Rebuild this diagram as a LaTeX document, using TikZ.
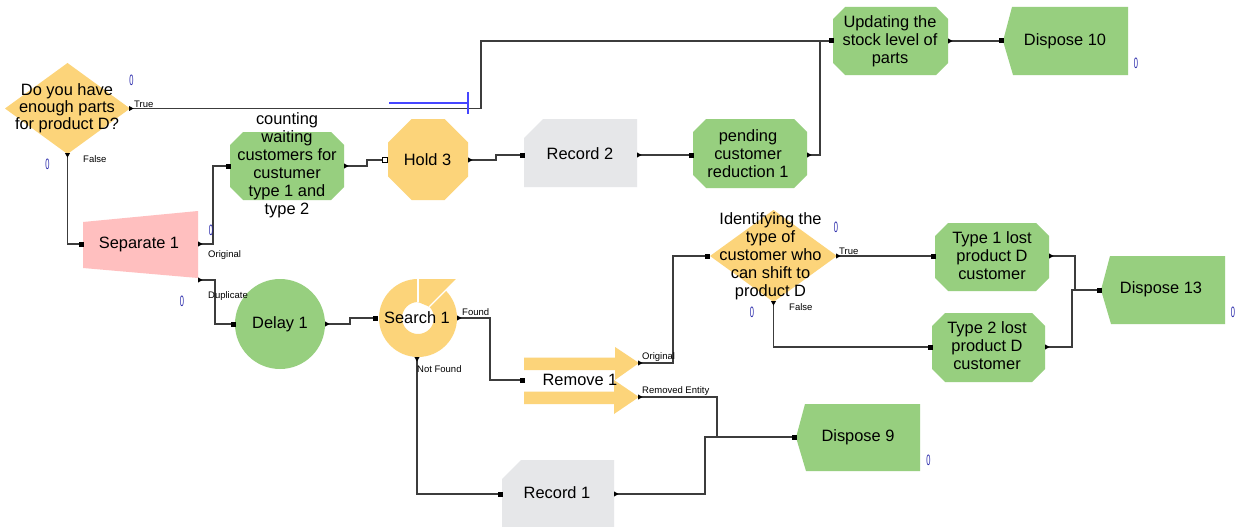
\documentclass[tikz,border=0pt]{standalone}
\usepackage{fontspec}
\usepackage{graphicx}
\setmainfont{Liberation Sans}
\usetikzlibrary{calc}

\definecolor{arenagreen}{RGB}{151,207,127}
\definecolor{arenaorange}{RGB}{252,212,122}
\definecolor{arenapink}{RGB}{255,191,191}
\definecolor{arenagray}{RGB}{230,231,233}
\definecolor{linegray}{RGB}{60,60,60}
\definecolor{countblue}{RGB}{40,40,170}
\definecolor{markblue}{RGB}{70,70,255}

% octagon-like box with cut corners: node, corner size, colour
\newcommand\cutfill[3]{%
  \fill[#3] ([xshift=#2]#1.north west) -- ([xshift=-#2]#1.north east)
    -- ([yshift=-#2]#1.north east) -- ([yshift=#2]#1.south east)
    -- ([xshift=-#2]#1.south east) -- ([xshift=#2]#1.south west)
    -- ([yshift=#2]#1.south west) -- ([yshift=-#2]#1.north west) -- cycle;}
% record box: top-left corner cut off
\newcommand\recfill[1]{%
  \fill[arenagray] ([yshift=-19pt]#1.north west) -- ([xshift=19pt]#1.north west)
    -- (#1.north east) -- (#1.south east) -- (#1.south west) -- cycle;}
% dispose box: pointed left side
\newcommand\dispfill[1]{%
  \fill[arenagreen] ([xshift=9pt]#1.north west) -- (#1.north east)
    -- (#1.south east) -- ([xshift=10pt]#1.south west) -- (#1.west) -- cycle;}
% decision diamond
\newcommand\decfill[1]{%
  \fill[arenaorange] (#1.west) -- (#1.north) -- (#1.east) -- (#1.south) -- cycle;}
% port markers
\newcommand\portin[1]{\fill[black] ([shift={(-2.5pt,-2.5pt)}]#1) rectangle ([shift={(2.5pt,2.5pt)}]#1);}
\newcommand\portinopen[1]{\draw[black,fill=white,line width=0.7pt] ([shift={(-2.2pt,-2.2pt)}]#1) rectangle ([shift={(2.2pt,2.2pt)}]#1);}
\newcommand\portout[1]{\fill[black] ([shift={(-1pt,2.6pt)}]#1) -- ([xshift=3.5pt]#1) -- ([shift={(-1pt,-2.6pt)}]#1) -- cycle;}
\newcommand\portdown[1]{\fill[black] ([shift={(-2.6pt,1pt)}]#1) -- ([yshift=-3.5pt]#1) -- ([shift={(2.6pt,1pt)}]#1) -- cycle;}
% narrow counter digit
\newcommand\cntzero{\scalebox{0.5}[1]{0}}

\begin{document}
\begin{tikzpicture}[x=1pt,y=-1pt,
  frame/.style={rectangle,inner sep=0pt,outer sep=0pt,draw=none},
  txt/.style={inner sep=0pt,align=center,font=\fontsize{16.4}{18}\selectfont},
  lbl/.style={inner sep=0pt,anchor=west,font=\fontsize{9.5}{11}\selectfont},
  conn/.style={draw=linegray,line width=1.1pt},
  counter/.style={inner sep=0pt,text=countblue,font=\fontsize{15}{15}\selectfont}]

\useasboundingbox (0,0) rectangle (1236,527);
\fill[white] (0,0) rectangle (1236,527);
\clip (0,0) rectangle (1236,527);

% ---------- module outlines ----------
\node[frame,minimum width=125,minimum height=91] (dec1) at (67.5,108.5) {};
\node[frame,minimum width=115,minimum height=67] (sep) at (140.5,244.5) {};
\node[frame,minimum width=114,minimum height=68] (cnt) at (287,166) {};
\node[frame,minimum width=80,minimum height=81] (hold) at (428,159.5) {};
\node[frame,minimum width=113,minimum height=68] (rec2) at (580.5,153) {};
\node[frame,minimum width=114,minimum height=69] (pend) at (750,153.5) {};
\node[frame,minimum width=115,minimum height=68] (upd) at (890.5,41) {};
\node[frame,minimum width=125,minimum height=68] (d10) at (1065.5,41) {};
\node[circle,fill=arenagreen,inner sep=0pt,minimum size=90] (del) at (280,324) {};
\node[frame,minimum width=78,minimum height=78] (srch) at (418,318) {};
\node[frame,minimum width=115,minimum height=67] (rem) at (581,380.5) {};
\node[frame,minimum width=112,minimum height=68] (rec1) at (558,494) {};
\node[frame,minimum width=124,minimum height=67] (d9) at (858,437.5) {};
\node[frame,minimum width=127,minimum height=92] (dec2) at (773.5,256) {};
\node[frame,minimum width=114,minimum height=68] (t1) at (992,257) {};
\node[frame,minimum width=113,minimum height=69] (t2) at (988.5,347.5) {};
\node[frame,minimum width=124,minimum height=68] (d13) at (1163,290) {};

% ---------- module fills ----------
\decfill{dec1}
\decfill{dec2}
\fill[arenapink] ([yshift=-11pt]sep.north west) -- (sep.north east)
  -- (sep.south east) -- ([yshift=10pt]sep.south west) -- cycle;
\cutfill{cnt}{13pt}{arenagreen}
\cutfill{hold}{23.5pt}{arenaorange}
\recfill{rec2}
\cutfill{pend}{13pt}{arenagreen}
\cutfill{upd}{12pt}{arenagreen}
\dispfill{d10}
\recfill{rec1}
\dispfill{d9}
\cutfill{t1}{13pt}{arenagreen}
\cutfill{t2}{13pt}{arenagreen}
\dispfill{d13}

% search ring with its flag
\fill[arenaorange,even odd rule] (srch) circle[radius=39] (srch) circle[radius=16];
\fill[arenaorange] ($(srch)+(0,-16)$) -- ($(srch)+(0,-39)$) -- ($(srch)+(39,-39)$)
  -- ($(srch)+(11.3,-11.3)$) -- cycle;
\draw[white,line width=1.2pt] ($(srch)+(0,-16)$) -- ($(srch)+(0,-40)$);
\draw[white,line width=1.2pt] ($(srch)+(11.3,-11.3)$) -- ($(srch)+(40,-40)$);

% remove arrows
\fill[arenaorange] (524,357.5) -- (615,357.5) -- (615,347) -- (639,363)
  -- (615,380) -- (615,370) -- (524,370) -- cycle;
\fill[arenaorange] (524,391.5) -- (614,391.5) -- (614,380) -- (639,397)
  -- (614,414) -- (614,404) -- (524,404) -- cycle;

% ---------- ports ----------
\coordinate (dec1T) at (dec1.east);
\coordinate (dec1F) at (dec1.south);
\coordinate (sepIn) at (81,244);
\coordinate (sepO) at (199,244);
\coordinate (sepD) at (199,280);
\coordinate (cntIn) at (228,166);
\coordinate (cntO) at (345,166);
\coordinate (holdIn) at (385,160);
\coordinate (holdO) at (469,160);
\coordinate (rec2In) at (522,155);
\coordinate (rec2O) at (638,155);
\coordinate (pendIn) at (691,155);
\coordinate (pendO) at (808,155);
\coordinate (updIn) at (831,41);
\coordinate (updO) at (949,41);
\coordinate (d10In) at (1001,41);
\coordinate (delIn) at (233,324);
\coordinate (delO) at (326,324);
\coordinate (srchIn) at (375,318);
\coordinate (srchF) at (458,318);
\coordinate (srchNF) at (417,358);
\coordinate (remIn) at (522,380);
\coordinate (remO) at (639,363);
\coordinate (remR) at (639,397);
\coordinate (rec1In) at (500,494);
\coordinate (rec1O) at (615,494);
\coordinate (d9In) at (794,437);
\coordinate (dec2In) at (707,256);
\coordinate (dec2T) at (837,256);
\coordinate (dec2F) at (dec2.south);
\coordinate (t1In) at (933,256);
\coordinate (t1O) at (1050,256);
\coordinate (t2In) at (930,347);
\coordinate (t2O) at (1046,347);
\coordinate (d13In) at (1099,290);

% ---------- connectors ----------
\draw[conn] (dec1T) -- ++(351,0) |- (updIn);
\draw[conn] (dec1F) |- (sepIn);
\draw[conn] (sepO) -- ++(14,0) |- (cntIn);
\draw[conn] (sepD) -- ++(16,0) |- (delIn);
\draw[conn] (cntO) -- ++(22,0) |- (holdIn);
\draw[conn] (holdO) -- ++(27,0) |- (rec2In);
\draw[conn] (rec2O) -- (pendIn);
\draw[conn] (pendO) -- ++(12,0) |- (updIn);
\draw[conn] (updO) -- (d10In);
\draw[conn] (delO) -- ++(24,0) |- (srchIn);
\draw[conn] (srchF) -- ++(32,0) |- (remIn);
\draw[conn] (srchNF) |- (rec1In);
\draw[conn] (remO) -- ++(34,0) |- (dec2In);
\draw[conn] (remR) -- ++(78,0) |- (d9In);
\draw[conn] (rec1O) -- ++(90,0) |- (d9In);
\draw[conn] (dec2T) -- (t1In);
\draw[conn] (dec2F) |- (t2In);
\draw[conn] (t1O) -- ++(25,0) |- (d13In);
\draw[conn] (t2O) -- ++(26,0) |- (d13In);

% stray blue mark on the top line
\draw[markblue,line width=1.3pt] (389,103) -- (468,103);
\draw[markblue,line width=1.3pt] (468,92) -- (468,114);

% port markers
\portout{dec1T} \portdown{dec1F}
\portin{sepIn} \portout{sepO} \portout{sepD}
\portin{cntIn} \portout{cntO}
\portinopen{holdIn} \portout{holdO}
\portin{rec2In} \portout{rec2O}
\portin{pendIn} \portout{pendO}
\portin{updIn} \portout{updO}
\portin{d10In}
\portin{delIn} \portout{delO}
\portin{srchIn} \portout{srchF} \portdown{srchNF}
\portin{remIn} \portout{remO} \portout{remR}
\portin{rec1In} \portout{rec1O}
\portin{d9In}
\portin{dec2In} \portout{dec2T} \portdown{dec2F}
\portin{t1In} \portout{t1O}
\portin{t2In} \portout{t2O}
\portin{d13In}

% ---------- module texts ----------
\node[txt,font=\fontsize{16.4}{17}\selectfont] (dec1-t) at (67,108) {Do you have\\enough parts\\for product D?};
\node[txt] (sep-t) at (139,244) {Separate 1};
\node[txt] (cnt-t) at (287,165) {counting\\waiting\\customers for\\custumer\\type 1 and\\type 2};
\node[txt] (hold-t) at (427.5,160) {Hold 3};
\node[txt] (rec2-t) at (580,154) {Record 2};
\node[txt] (pend-t) at (748,154) {pending\\customer\\reduction 1};
\node[txt] (upd-t) at (890,41) {Updating the\\stock level of\\parts};
\node[txt] (d10-t) at (1065,41) {Dispose 10};
\node[txt] (del-t) at (280,324) {Delay 1};
\node[txt] (srch-t) at (417,318) {Search 1};
\node[txt] (rem-t) at (580,380) {Remove 1};
\node[txt] (rec1-t) at (557,493) {Record 1};
\node[txt] (d9-t) at (858,437) {Dispose 9};
\node[txt] (dec2-t) at (770.5,256) {Identifying the\\type of\\customer who\\can shift to\\product D};
\node[txt] (t1-t) at (992,256) {Type 1 lost\\product D\\customer};
\node[txt] (t2-t) at (987,346) {Type 2 lost\\product D\\customer};
\node[txt] (d13-t) at (1161,289) {Dispose 13};

% ---------- exit labels ----------
\node[lbl] (l-true1) at (134,104) {True};
\node[lbl] (l-false1) at (83,159.5) {False};
\node[lbl] (l-orig1) at (208,255.5) {Original};
\node[lbl] (l-dup) at (208,296.5) {Duplicate};
\node[lbl] (l-found) at (462,312) {Found};
\node[lbl] (l-nf) at (417,369) {Not Found};
\node[lbl] (l-orig2) at (642,357) {Original};
\node[lbl] (l-remd) at (642,391.5) {Removed Entity};
\node[lbl] (l-true2) at (839,251.5) {True};
\node[lbl] (l-false2) at (789,307) {False};

% ---------- counters ----------
\node[counter] (c1) at (131.5,80) {\cntzero};
\node[counter] (c2) at (47.5,164) {\cntzero};
\node[counter] (c3) at (211,230) {\cntzero};
\node[counter] (c4) at (182,301) {\cntzero};
\node[counter] (c5) at (836,227) {\cntzero};
\node[counter] (c6) at (752,312) {\cntzero};
\node[counter] (c7) at (1136,63) {\cntzero};
\node[counter] (c8) at (928.5,460) {\cntzero};
\node[counter] (c9) at (1233,312) {\cntzero};
\end{tikzpicture}
\end{document}
